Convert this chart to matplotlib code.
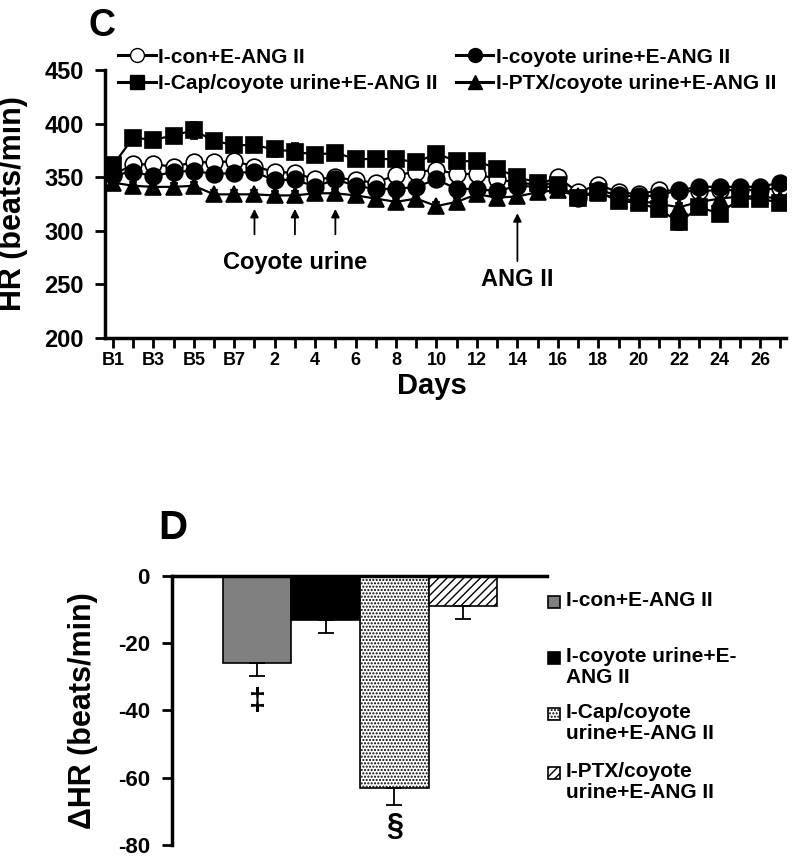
import numpy as np
import matplotlib
matplotlib.use("Agg")
import matplotlib.pyplot as plt
from matplotlib.lines import Line2D
from matplotlib.patches import Rectangle

# Panel C: heart rate over baseline days (B1-B7) and study days 1-27
day_labels = ['B1', 'B2', 'B3', 'B4', 'B5', 'B6', 'B7'] + [str(d) for d in range(1, 28)]

icon_hr = [352, 362, 362, 360, 364, 364, 365, 360, 355, 354, 348, 350, 347, 345,
           352, 355, 357, 353, 353, 348, 345, 343, 350, 336, 343, 336, 334, 338,
           337, 337, 338, 338, 338, 340]
icon_err = [4, 3, 3, 3, 3, 3, 4, 3, 3, 3, 3, 3, 3, 3, 3, 3, 3, 3, 3, 3, 3, 3,
            3, 3, 3, 3, 3, 3, 3, 3, 3, 3, 3, 3]

coyote_hr = [352, 355, 351, 355, 356, 353, 354, 355, 347, 348, 341, 348, 342, 339,
             339, 341, 348, 339, 339, 337, 342, 341, 341, 331, 338, 333, 332, 333,
             338, 341, 341, 341, 341, 345]
coyote_err = [4, 4, 4, 4, 4, 4, 4, 4, 4, 4, 4, 4, 4, 4, 4, 4, 4, 4, 4, 4, 4, 4,
              4, 4, 4, 4, 4, 4, 4, 4, 4, 4, 4, 4]

cap_hr = [361, 387, 385, 389, 394, 384, 380, 380, 376, 374, 371, 373, 367, 367,
          367, 364, 372, 365, 365, 358, 350, 345, 343, 331, 336, 328, 326, 320,
          308, 322, 316, 330, 330, 326]
cap_err = [7, 6, 6, 5, 8, 5, 4, 4, 7, 8, 4, 4, 5, 4, 5, 4, 5, 4, 4, 4, 5, 4,
           4, 4, 4, 4, 5, 5, 7, 6, 6, 5, 5, 5]

ptx_hr = [345, 342, 341, 341, 342, 334, 334, 334, 333, 333, 335, 335, 333, 330,
          327, 330, 323, 327, 334, 331, 332, 336, 338, 332, 335, 330, 328, 325,
          322, 327, 330, 332, 332, 330]
ptx_err = [4, 4, 4, 4, 4, 4, 4, 4, 4, 4, 4, 4, 4, 4, 4, 4, 4, 4, 4, 4, 4, 4,
           4, 4, 4, 4, 4, 4, 4, 4, 4, 4, 4, 4]

series_names = ['I-con+E-ANG II', 'I-coyote urine+E-ANG II',
                'I-Cap/coyote urine+E-ANG II', 'I-PTX/coyote urine+E-ANG II']

coyote_days = ['1', '3', '5']
angii_day = '14'

# Panel D: change in HR
bar_values = [-26, -13, -63, -9]
bar_err = [3.7, 4.0, 5.0, 3.8]
bar_marks = ['\u2021', '', '\u00a7', '']
mark_y = [-37.5, None, -74.5, None]
d_labels = ['I-con+E-ANG II', 'I-coyote urine+E-\nANG II',
            'I-Cap/coyote\nurine+E-ANG II', 'I-PTX/coyote\nurine+E-ANG II']


def main():
    plt.rcParams['axes.unicode_minus'] = False
    arial = ['Liberation Sans', 'DejaVu Sans']
    fig = plt.figure(figsize=(8, 8.57), dpi=100)

    # ---------------- panel C ----------------
    ax = fig.add_axes([0.131, 0.606, 0.852, 0.312])
    x = np.arange(len(day_labels))
    data = [(icon_hr, icon_err, 'o', 'white'),
            (coyote_hr, coyote_err, 'o', 'black'),
            (cap_hr, cap_err, 's', 'black'),
            (ptx_hr, ptx_err, '^', 'black')]
    handles = []
    for (vals, err, mk, fc), name in zip(data, series_names):
        ms = 12 if mk != 's' else 11
        ax.errorbar(x, vals, yerr=err, color='black', lw=1.6, marker=mk,
                    mfc=fc, mec='black', mew=1.2, ms=ms, capsize=3,
                    elinewidth=1, capthick=1)
        handles.append(Line2D([], [], color='black', lw=2.2, marker=mk, mfc=fc,
                              mec='black', ms=10))

    ax.set_xlim(-0.4, 33.3)
    ax.set_ylim(200, 450)
    ax.set_yticks([200, 250, 300, 350, 400, 450])
    ax.set_xticks(x)
    ax.set_xticklabels([lab if i % 2 == 0 else '' for i, lab in enumerate(day_labels)])
    for s in ['top', 'right']:
        ax.spines[s].set_visible(False)
    for s in ['left', 'bottom']:
        ax.spines[s].set_linewidth(2.5)
    ax.tick_params(axis='both', direction='out', width=2, length=7)
    ax.tick_params(axis='y', pad=8)
    for t in ax.get_xticklabels():
        t.set_family(arial)
        t.set_fontweight('bold')
        t.set_fontsize(13)
    for t in ax.get_yticklabels():
        t.set_family(arial)
        t.set_fontweight('bold')
        t.set_fontsize(17)
    ax.set_ylabel('HR (beats/min)', family=arial, fontweight='bold', fontsize=22)
    ax.yaxis.set_label_coords(-0.112, 0.5)
    ax.set_xlabel('Days', family=arial, fontweight='bold', fontsize=21, labelpad=0)
    ax.xaxis.set_label_coords(0.48, -0.13)

    # arrows for treatments
    for d in coyote_days:
        i = day_labels.index(d)
        ax.annotate('', xy=(i, 323), xytext=(i, 294),
                    arrowprops=dict(arrowstyle='-|>', color='black', lw=1.3,
                                    mutation_scale=12))
    ax.text(day_labels.index('3'), 270, 'Coyote urine', ha='center', va='center',
            family=arial, fontweight='bold', fontsize=17)
    i = day_labels.index(angii_day)
    ax.annotate('', xy=(i, 319), xytext=(i, 269),
                arrowprops=dict(arrowstyle='-|>', color='black', lw=1.3,
                                mutation_scale=12))
    ax.text(i, 254, 'ANG II', ha='center', va='center', family=arial,
            fontweight='bold', fontsize=17)

    order = [0, 2, 1, 3]
    ax.legend([handles[k] for k in order], [series_names[k] for k in order],
              ncol=2, loc='center left', bbox_to_anchor=(-0.008, 1.0),
              frameon=False, handlelength=1.8, handletextpad=0.1,
              columnspacing=0.9, labelspacing=0.35,
              prop={'family': arial, 'weight': 'bold', 'size': 15})
    fig.text(0.127, 0.970, 'C', family=arial, fontweight='bold', fontsize=27,
             ha='center', va='center')

    # ---------------- panel D ----------------
    ax2 = fig.add_axes([0.215, 0.014, 0.469, 0.314])
    xb = np.arange(len(bar_values))
    faces = ['#808080', 'black', 'white', 'white']
    hatches = [None, None, '.....', '////']
    bars = ax2.bar(xb, bar_values, width=1.0, color=faces, edgecolor='black',
                   linewidth=1.2)
    for b, h in zip(bars, hatches):
        if h:
            b.set_hatch(h)
    ax2.errorbar(xb, bar_values, yerr=[bar_err, [0] * len(bar_err)], fmt='none',
                 ecolor='black', elinewidth=1.3, capsize=6, capthick=1.3)
    for xi, m, my in zip(xb, bar_marks, mark_y):
        if m:
            ax2.text(xi, my, m, ha='center', va='center', fontsize=22,
                     fontweight='bold', family=arial)
    ax2.set_xlim(-1.24, 4.23)
    ax2.set_ylim(-80, 0)
    ax2.set_yticks([0, -20, -40, -60, -80])
    ax2.set_xticks([])
    ax2.spines['bottom'].set_position(('data', 0))
    ax2.spines['right'].set_visible(False)
    ax2.spines['top'].set_visible(False)
    ax2.spines['left'].set_linewidth(2.5)
    ax2.spines['bottom'].set_linewidth(2.5)
    ax2.tick_params(axis='y', direction='out', width=2, length=7, pad=9)
    for t in ax2.get_yticklabels():
        t.set_family(arial)
        t.set_fontweight('bold')
        t.set_fontsize(16)
    ax2.set_ylabel('\u0394HR (beats/min)', family=arial, fontweight='bold',
                   fontsize=22)
    ax2.yaxis.set_label_coords(-0.198, 0.5)
    fig.text(0.216, 0.384, 'D', family=arial, fontweight='bold', fontsize=29,
             ha='center', va='center')

    # legend for panel D, with swatches aligned to first text line
    first_line_px = [602, 658, 714, 773]
    for lab, fc, h, ypx in zip(d_labels, faces, hatches, first_line_px):
        yf = 1 - ypx / 857
        r = Rectangle((548 / 800, yf - 6 / 857), 12 / 800, 12 / 857,
                      transform=fig.transFigure, facecolor=fc, edgecolor='black',
                      lw=1.2, hatch=h)
        fig.patches.append(r)
        fig.text(566 / 800, yf + 11 / 857, lab, ha='left', va='top',
                 family=arial, fontweight='bold', fontsize=15, linespacing=1.15)

    fig.savefig('out.png', dpi=100)


if __name__ == "__main__":
    main()
